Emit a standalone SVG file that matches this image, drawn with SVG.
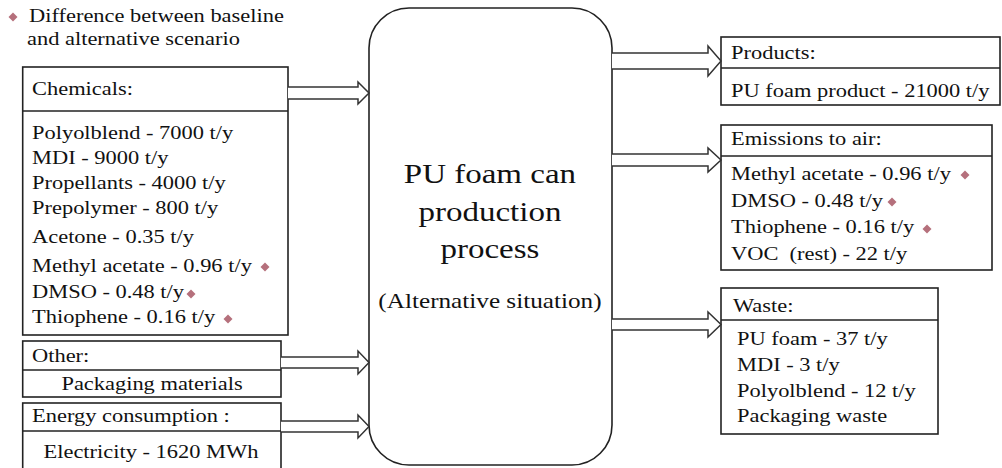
<svg xmlns="http://www.w3.org/2000/svg" width="1002" height="468" viewBox="0 0 1002 468">
<style>
.box{fill:#fff;stroke:#222;stroke-width:1.6}
.sep{stroke:#222;stroke-width:1.6}
.t{font-family:"Liberation Serif","Times New Roman",serif;font-size:18.7px;fill:#111}
.big{font-size:27.5px}
.mid{font-size:21px}
.arr{fill:#fff;stroke:#333;stroke-width:1.5;stroke-linejoin:miter}
.dia{fill:#b5707c}
</style>
<defs>
<path id="dm" d="M0,-4.5 L4.5,0 L0,4.5 L-4.5,0Z"/>
</defs>
<rect width="1002" height="468" fill="#fff"/>

<g id="legend">
<use href="#dm" class="dia" x="13" y="17"/>
<g transform="scale(1.2 1)" class="t">
<text x="24.2" y="22">Difference between baseline</text>
<text x="22.5" y="45">and alternative scenario</text>
</g>
</g>

<g id="chemicals">
<rect class="box" x="22.7" y="67" width="265.3" height="268"/>
<line class="sep" x1="22.7" y1="111" x2="288" y2="111"/>
<g transform="scale(1.2 1)" class="t">
<text x="26.7" y="95">Chemicals:</text>
<text x="26.7" y="139">Polyolblend - 7000 t/y</text>
<text x="26.7" y="164">MDI - 9000 t/y</text>
<text x="26.7" y="189">Propellants - 4000 t/y</text>
<text x="26.7" y="214">Prepolymer - 800 t/y</text>
<text x="26.7" y="243">Acetone - 0.35 t/y</text>
<text x="26.7" y="272">Methyl acetate - 0.96 t/y</text>
<text x="26.7" y="298">DMSO - 0.48 t/y</text>
<text x="26.7" y="323">Thiophene - 0.16 t/y</text>
</g>
<use href="#dm" class="dia" x="265" y="267"/>
<use href="#dm" class="dia" x="191" y="294"/>
<use href="#dm" class="dia" x="228" y="319"/>
</g>

<g id="other">
<rect class="box" x="22.7" y="341" width="258.3" height="56"/>
<line class="sep" x1="22.7" y1="370" x2="281" y2="370"/>
<g transform="scale(1.2 1)" class="t">
<text x="26.7" y="362">Other:</text>
<text x="126.7" y="390" text-anchor="middle">Packaging materials</text>
</g>
</g>

<g id="energy">
<rect class="box" x="22.7" y="403" width="258.3" height="75"/>
<line class="sep" x1="22.7" y1="431" x2="281" y2="431"/>
<g transform="scale(1.2 1)" class="t">
<text x="26.7" y="422">Energy consumption :</text>
<text x="125.8" y="458" text-anchor="middle">Electricity - 1620 MWh</text>
</g>
</g>

<g id="process">
<rect class="box" x="369" y="8" width="243" height="457" rx="40" ry="40"/>
<g transform="scale(1.2 1)" class="t" text-anchor="middle">
<text class="big" x="408.3" y="183">PU foam can</text>
<text class="big" x="408.3" y="221">production</text>
<text class="big" x="408.3" y="258">process</text>
<text class="mid" x="408.3" y="308">(Alternative situation)</text>
</g>
</g>

<g id="products">
<rect class="box" x="721" y="37" width="279" height="68"/>
<line class="sep" x1="721" y1="68" x2="1000" y2="68"/>
<g transform="scale(1.2 1)" class="t">
<text x="609.2" y="59">Products:</text>
<text x="609.2" y="97">PU foam product - 21000 t/y</text>
</g>
</g>

<g id="emissions">
<rect class="box" x="721" y="125" width="271" height="145"/>
<line class="sep" x1="721" y1="156" x2="992" y2="156"/>
<g transform="scale(1.2 1)" class="t">
<text x="609.2" y="145">Emissions to air:</text>
<text x="609.2" y="180">Methyl acetate - 0.96 t/y</text>
<text x="609.2" y="207">DMSO - 0.48 t/y</text>
<text x="609.2" y="233">Thiophene - 0.16 t/y</text>
<text x="609.2" y="260">VOC&#160; (rest) - 22 t/y</text>
</g>
<use href="#dm" class="dia" x="965" y="175"/>
<use href="#dm" class="dia" x="892" y="202"/>
<use href="#dm" class="dia" x="927" y="229"/>
</g>

<g id="waste">
<rect class="box" x="721" y="288" width="217" height="146"/>
<line class="sep" x1="721" y1="320" x2="938" y2="320"/>
<g transform="scale(1.2 1)" class="t">
<text x="610.8" y="312">Waste:</text>
<text x="614.2" y="345">PU foam - 37 t/y</text>
<text x="614.2" y="371">MDI - 3 t/y</text>
<text x="614.2" y="397">Polyolblend - 12 t/y</text>
<text x="614.2" y="422">Packaging waste</text>
</g>
</g>

<g id="connectors">
<polyline class="arr" points="288,87 358,87 358,82 369,93 358,104 358,99 288,99"/>
<polyline class="arr" points="281,357 358,357 358,351 369,362.5 358,374 358,368 281,368"/>
<polyline class="arr" points="281,421 358,421 358,415 369,426.5 358,438 358,432 281,432"/>
<polyline class="arr" points="612,53 708,53 708,46 721,61 708,76 708,69 612,69"/>
<polyline class="arr" points="612,154 708,154 708,148 721,160 708,172 708,166 612,166"/>
<polyline class="arr" points="612,319 708,319 708,312 721,324.5 708,337 708,330 612,330"/>
</g>
</svg>
